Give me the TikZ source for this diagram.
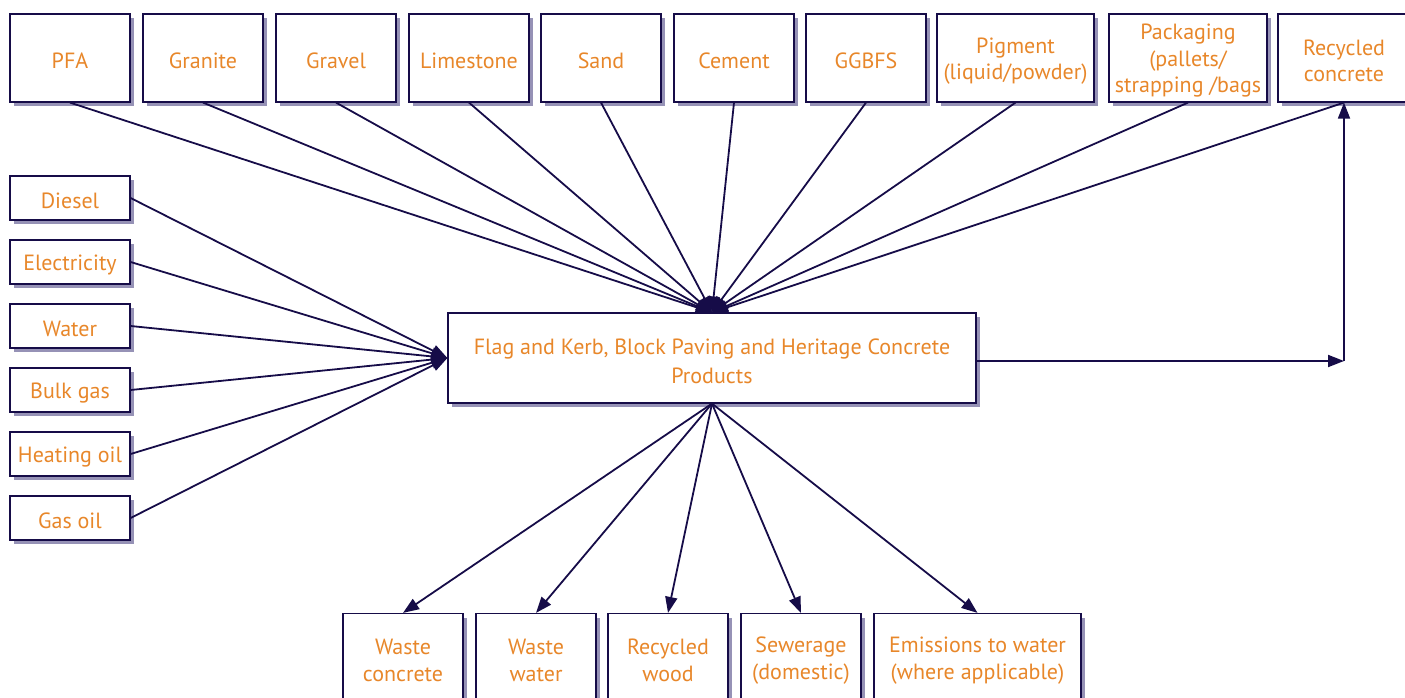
\documentclass[tikz,border=0pt]{standalone}
\usepackage{fontspec}
\setmainfont{PT Sans}
\usetikzlibrary{arrows.meta,shadows}
\definecolor{navy}{RGB}{22,12,72}
\definecolor{org}{RGB}{232,135,42}
\definecolor{shd}{RGB}{150,146,182}
\newcommand{\bx}[4]{%
  \node[#3] (#1) at (#2) {};
  \node[txt] (#1-t) at ([yshift=-3pt]#1.center) {#4};}
\begin{document}
\begin{tikzpicture}[x=1pt,y=-1pt,
  box/.style={draw=navy,line width=1.2pt,fill=white,inner sep=0pt,
    drop shadow={shadow xshift=4pt,shadow yshift=-4pt,fill=shd,opacity=1}},
  txt/.style={text=org,align=center,inner sep=0pt,font=\fontsize{22}{26.5}\selectfont},
  bigtxt/.style={txt,font=\fontsize{22}{29}\selectfont},
  topbox/.style={box,minimum width=120pt,minimum height=88pt},
  leftbox/.style={box,minimum width=120pt,minimum height=44pt},
  conn/.style={draw=navy,line width=1.8pt},
  arr/.style={conn,-{Triangle[length=16pt,width=12pt]}}]
\useasboundingbox (0,0) rectangle (1405,698);
% top row
\bx{pfa}{70,58}{topbox}{PFA}
\bx{granite}{203,58}{topbox}{Granite}
\bx{gravel}{336,58}{topbox}{Gravel}
\bx{lime}{469,58}{topbox}{Limestone}
\bx{sand}{601,58}{topbox}{Sand}
\bx{cement}{734,58}{topbox}{Cement}
\bx{ggbfs}{866,58}{topbox}{GGBFS}
\bx{pig}{1015.5,58}{topbox,minimum width=157pt}{Pigment\\(liquid/powder)}
\bx{pack}{1188,58}{topbox,minimum width=158pt}{Packaging\\(pallets/\\strapping /bags}
\bx{rc}{1344,58}{topbox,minimum width=132pt}{Recycled\\concrete}
% left column
\bx{diesel}{70,198}{leftbox}{Diesel}
\bx{elec}{70,262}{leftbox}{Electricity}
\bx{water}{70,326}{leftbox}{Water}
\bx{bulk}{70,390}{leftbox}{Bulk gas}
\bx{heat}{70,454}{leftbox}{Heating oil}
\bx{gasoil}{70,518}{leftbox}{Gas oil}
% centre
\node[box,minimum width=528pt,minimum height=90pt] (c) at (712,358) {};
\node[bigtxt] (c-t) at ([yshift=-3pt]c.center)
  {Flag and Kerb, Block Paving and Heritage Concrete\\Products};
% bottom row
\bx{wc}{403,657.5}{topbox}{Waste\\concrete}
\bx{ww}{536,657.5}{topbox}{Waste\\water}
\bx{rw}{668,657.5}{topbox}{Recycled\\wood}
\bx{sew}{801,657.5}{topbox}{Sewerage\\(domestic)}
\bx{emi}{977.5,657.5}{topbox,minimum width=207pt}{Emissions to water\\(where applicable)}
% connectors into centre top
\foreach \n in {pfa,granite,gravel,lime,sand,cement,ggbfs,pig,pack,rc}
  \draw[arr] (\n.south) -- (c.north);
% connectors into centre left
\foreach \n in {diesel,elec,water,bulk,heat,gasoil}
  \draw[arr] (\n.east) -- (c.west);
% outputs
\foreach \n in {wc,ww,rw,sew,emi}
  \draw[arr] (c.south) -- (\n.north);
% recycling loop
\coordinate (corner) at (1344,361);
\draw[arr] (c.east |- corner) -- (corner);
\draw[arr] (corner) -- (rc.south);
\end{tikzpicture}
\end{document}
